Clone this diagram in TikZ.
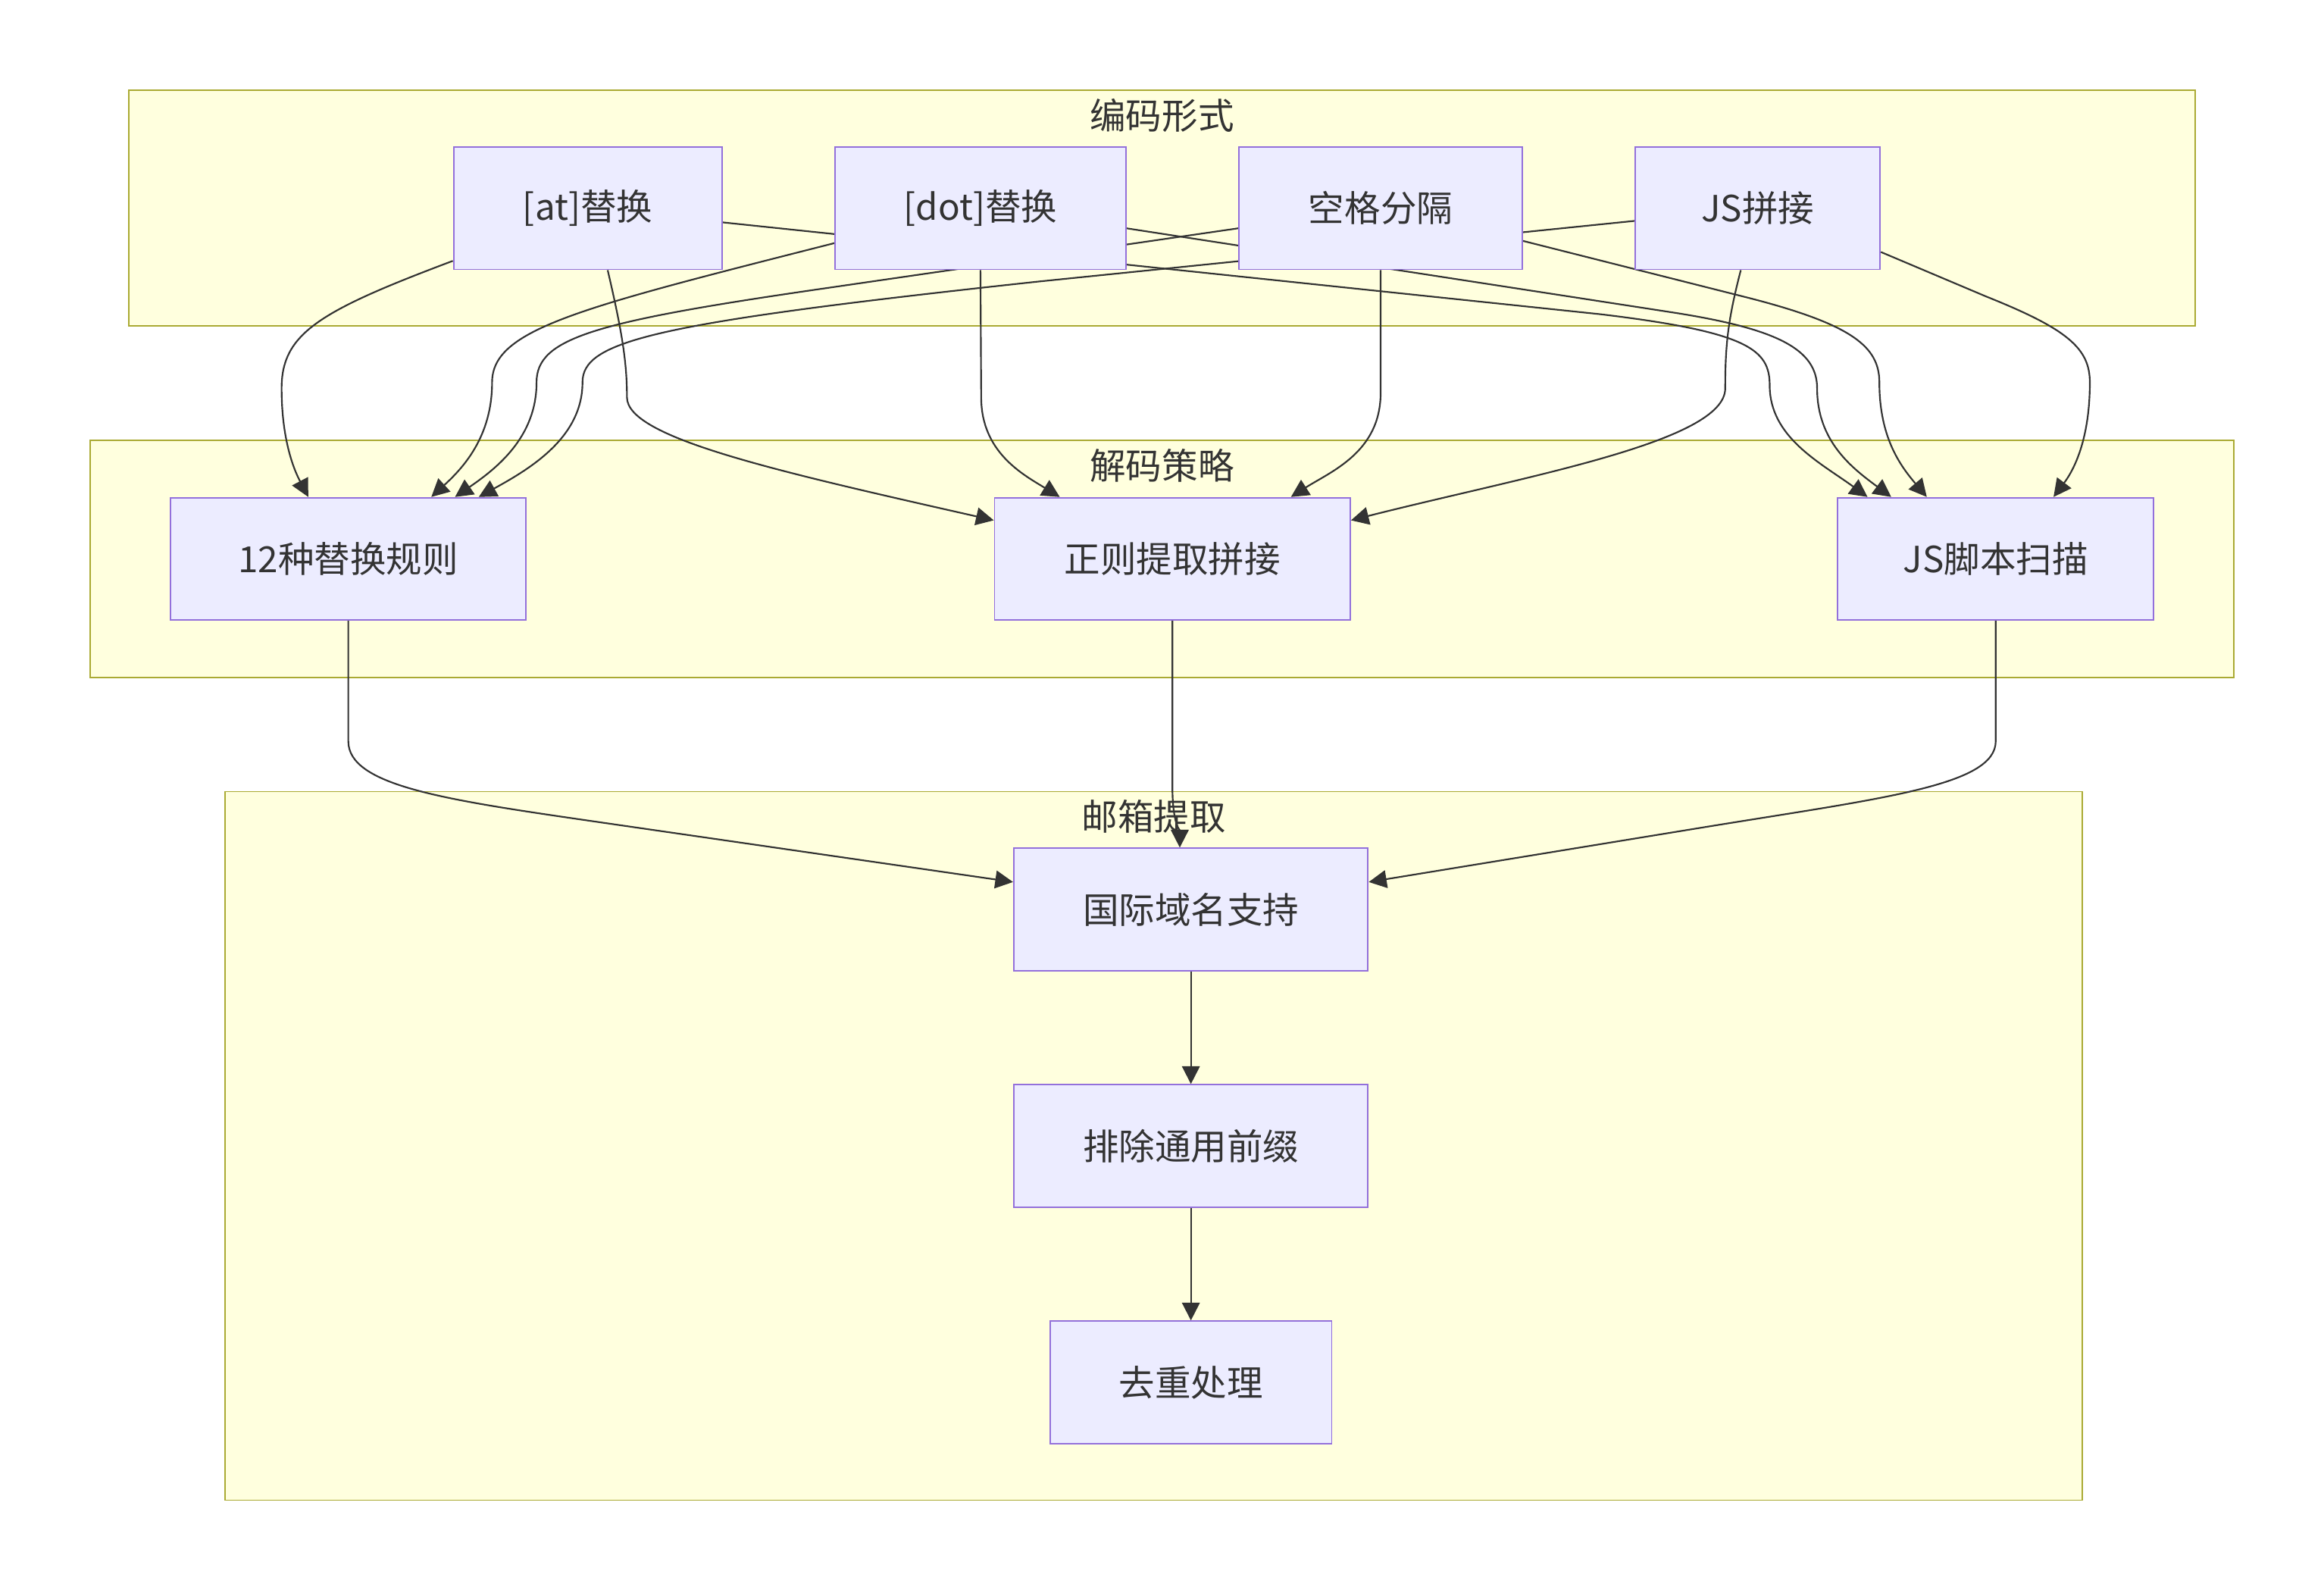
\documentclass[tikz,border=0pt]{standalone}
\usepackage{fontspec}
\setmainfont{Noto Sans CJK SC}
\usepackage{xcolor}
\usetikzlibrary{arrows.meta, positioning, calc}

\definecolor{clusterfill}{HTML}{FFFFDE}
\definecolor{clusterline}{HTML}{AAAA33}
\definecolor{nodefill}{HTML}{ECECFF}
\definecolor{nodeline}{HTML}{9370DB}
\definecolor{edgecol}{HTML}{333333}

\pgfdeclarelayer{clusters}
\pgfdeclarelayer{edges}
\pgfsetlayers{clusters,edges,main}

\begin{document}
\begin{tikzpicture}[
        x=1pt, y=-1pt,
        node distance=75.5pt,
        proc/.style={rectangle, draw=nodeline, fill=nodefill, line width=1pt, minimum height=82.5pt, inner sep=0pt, text=edgecol, font=\fontsize{24.3}{29}\selectfont},
        cluster/.style={draw=clusterline, fill=clusterfill, line width=1pt},
        grouptitle/.style={inner sep=0pt, text=edgecol, font=\fontsize{24.3}{29}\selectfont},
        arrow/.style={draw=edgecol, line width=1.1pt, -{Triangle[length=12pt,width=12pt]}}
    ]
    \useasboundingbox (0,0) rectangle (1568,1072.6);

    % encoding forms
    \node [proc, minimum width=181pt] (at) at (396.5,140.5) {[at]替换};
    \node [proc, minimum width=196pt, right=of at] (dot) {[dot]替换};
    \node [proc, minimum width=191pt, right=of dot] (space) {空格分隔};
    \node [proc, minimum width=165pt, right=of space] (jsjoin) {JS拼接};

    % decoding strategies
    \node [proc, minimum width=240pt] (rules) at (235,377) {12种替换规则};
    \node [proc, minimum width=240pt] (regex) at (791,377) {正则提取拼接};
    \node [proc, minimum width=213pt] (jsscan) at (1346.5,377) {JS脚本扫描};

    % email extraction
    \node [proc, minimum width=239pt] (idn) at (803.5,613.5) {国际域名支持};
    \node [proc, minimum width=239pt, below=76pt of idn] (prefix) {排除通用前缀};
    \node [proc, minimum width=190pt, below=76pt of prefix] (dedup) {去重处理};

    \begin{pgfonlayer}{clusters}
        \draw [cluster] (87,61) rectangle (1481,220);
        \draw [cluster] (61,297) rectangle (1507,457);
        \draw [cluster] (152,534) rectangle (1405,1012);
    \end{pgfonlayer}
    \node [grouptitle] (encode) at (784,78) {编码形式};
    \node [grouptitle] (decode) at (784,314) {解码策略};
    \node [grouptitle] (extract) at (778.5,551) {邮箱提取};

    \begin{pgfonlayer}{edges}
        % into the replacement rules
        \draw [arrow] ($(at.west)+(0,35.5)$) .. controls (215,210) and (190,225) .. (190,262) .. controls (190,300) and (200,320) .. ($(rules.north)+(-27,0)$);
        \draw [arrow] ($(dot.west)+(0,23.5)$) .. controls (390,208) and (332,222) .. (332,258) .. controls (332,295) and (312,316) .. ($(rules.north)+(56,0)$);
        \draw [arrow] ($(space.west)+(0,13.5)$) -- (560,194) .. controls (400,217) and (362,228) .. (362,258) .. controls (362,295) and (335,316) .. ($(rules.north)+(72,0)$);
        \draw [arrow] ($(jsjoin.west)+(0,8.5)$) -- (700,190) .. controls (440,218) and (393,230) .. (393,258) .. controls (393,295) and (358,316) .. ($(rules.north)+(88,0)$);
        % into the regex join
        \draw [arrow] ($(at.south)+(13.5,0)$) .. controls (420,225) and (423,245) .. (423,268) .. controls (423,295) and (520,317) .. ($(regex.west)+(0,-26)$);
        \draw [arrow] (dot.south) -- (662,268) .. controls (662,305) and (690,320) .. ($(regex.north)+(-76,0)$);
        \draw [arrow] (space.south) -- (931.5,265) .. controls (931.5,305) and (898,318) .. ($(regex.north)+(80,0)$);
        \draw [arrow] ($(jsjoin.south)+(-11.5,0)$) .. controls (1166,215) and (1164,232) .. (1164,262) .. controls (1164,298) and (1030,321) .. ($(regex.east)+(0,-26)$);
        % into the script scan
        \draw [arrow] ($(at.east)+(0,9.5)$) -- (1080,212) .. controls (1180,224) and (1194,236) .. (1194,260) .. controls (1194,295) and (1228,312) .. ($(jsscan.north)+(-86.5,0)$);
        \draw [arrow] ($(dot.east)+(0,13.5)$) -- (1130,211) .. controls (1200,222) and (1226,236) .. (1226,262) .. controls (1226,298) and (1250,316) .. ($(jsscan.north)+(-70.5,0)$);
        \draw [arrow] ($(space.east)+(0,22)$) -- (1180,201) .. controls (1250,219) and (1268,234) .. (1268,258) .. controls (1268,295) and (1282,314) .. ($(jsscan.north)+(-46.5,0)$);
        \draw [arrow] ($(jsjoin.east)+(0,29.5)$) -- (1340,200) .. controls (1395,222) and (1410,235) .. (1410,258) .. controls (1410,295) and (1400,316) .. ($(jsscan.north)+(39,0)$);
        % into the extraction
        \draw [arrow] (rules.south) -- (235,500) .. controls (235,530) and (300,539.5) .. (400,554) -- ($(idn.west)+(0,-18.5)$);
        \draw [arrow] (regex.south) -- (791,530) .. controls (791,556) and (796,560) .. ($(idn.north)+(-7.5,0)$);
        \draw [arrow] (jsscan.south) -- (1346.5,500) .. controls (1346.5,530) and (1270,538.4) .. (1150,558) -- ($(idn.east)+(0,-18.5)$);
        \draw [arrow] (idn) -- (prefix);
        \draw [arrow] (prefix) -- (dedup);
    \end{pgfonlayer}

\end{tikzpicture}
\end{document}
